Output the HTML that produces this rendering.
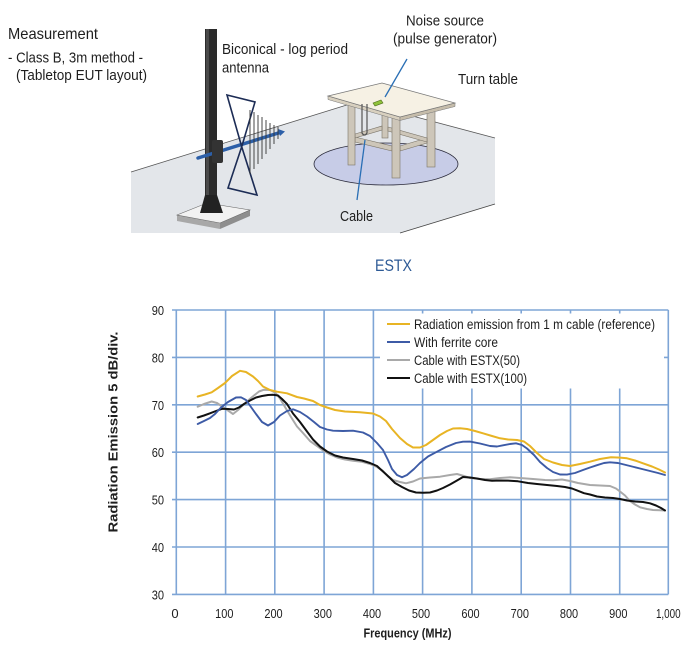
<!DOCTYPE html>
<html><head><meta charset="utf-8"><style>
html,body{margin:0;padding:0;background:#fff;}
svg{display:block;}
text{font-family:"Liberation Sans",sans-serif;fill:#1e1e1e;}
</style></head><body>
<svg width="696" height="647" viewBox="0 0 696 647" xmlns="http://www.w3.org/2000/svg">
<!-- ===== Illustration ===== -->
<polygon points="131,172 358,101.5 495,138 495,204 400,233 131,233" fill="#e3e6ea"/>
<polyline points="131,172 358,101.5 495,138" fill="none" stroke="#555" stroke-width="0.8"/>
<line x1="495" y1="204" x2="400" y2="233" stroke="#444" stroke-width="0.9"/>
<!-- turntable -->
<ellipse cx="386" cy="164" rx="72" ry="21" fill="#c7cce7" stroke="#2a2a3a" stroke-width="0.8"/>
<!-- table legs -->
<g fill="#cdc6b9" stroke="#7a7468" stroke-width="0.6">
<rect x="382" y="110" width="6" height="28"/>
<rect x="427" y="108" width="8" height="59"/>
<polygon points="355,137 392,146 392,151 355,142"/>
<polygon points="400,146 427,138 427,143 400,151"/>
<polygon points="355,134 382,126 382,130 355,138"/>
<polygon points="388,127 427,138 427,142 388,131"/>
<rect x="348" y="103" width="7" height="62"/>
<rect x="392" y="115" width="8" height="63"/>
</g>
<!-- table top -->
<polygon points="328,96 400,117 400,120.5 328,99.5" fill="#d8d0bf" stroke="#777" stroke-width="0.5"/>
<polygon points="400,117 455,103 455,106.5 400,120.5" fill="#c6bdab" stroke="#777" stroke-width="0.5"/>
<polygon points="328,96 382,83 455,103 400,117" fill="#f6f1e4" stroke="#777" stroke-width="0.7"/>
<!-- cable and noise source -->
<path d="M362,104 L362,133 Q364.5,137 367,133 L367,104" fill="none" stroke="#555" stroke-width="1.2"/>
<polygon points="373,103 381,100 383,103 375,106" fill="#8fc23a" stroke="#4d6b1a" stroke-width="0.6"/>
<line x1="407" y1="59" x2="385" y2="97" stroke="#2a6fb5" stroke-width="1.3"/>
<line x1="365" y1="140" x2="357" y2="200" stroke="#2a6fb5" stroke-width="1.3"/>
<!-- pole base -->
<polygon points="177,215 220,223 220,229 177,221" fill="#a8a8a8"/>
<polygon points="220,223 250,210 250,216 220,229" fill="#8e8e8e"/>
<polygon points="177,215 207,203 250,210 220,223" fill="#f2f2f2" stroke="#666" stroke-width="0.6"/>
<!-- pole -->
<rect x="205" y="29" width="12" height="172" fill="#2b2b2b"/>
<rect x="206" y="29" width="3" height="172" fill="#4a4a4a"/>
<polygon points="205,195 217,195 223,213 200,213" fill="#222"/>
<!-- boom -->
<line x1="198" y1="158" x2="280" y2="132.5" stroke="#2c5fa8" stroke-width="3.5" stroke-linecap="round"/>
<polygon points="278,129 285,131.5 280,136" fill="#2c5fa8"/>
<rect x="212" y="140" width="11" height="23" rx="2" fill="#333"/>
<!-- bowtie -->
<polygon points="227,95 255,102 241.7,146.7" fill="none" stroke="#1c2c55" stroke-width="1.6"/>
<polygon points="241.7,146.7 228,188 257,195" fill="none" stroke="#1c2c55" stroke-width="1.6"/>
<!-- log-periodic elements -->
<g stroke="#333" stroke-width="0.9">
<line x1="250" y1="110" x2="250" y2="174"/>
<line x1="254" y1="112" x2="254" y2="169"/>
<line x1="258" y1="115" x2="258" y2="164"/>
<line x1="262" y1="117" x2="262" y2="159"/>
<line x1="266" y1="120" x2="266" y2="154"/>
<line x1="270" y1="123" x2="270" y2="149"/>
<line x1="274" y1="125" x2="274" y2="144"/>
<line x1="278" y1="127" x2="278" y2="139"/>
</g>
<!-- illustration text -->
<text x="8" y="39" font-size="16" textLength="90" lengthAdjust="spacingAndGlyphs">Measurement</text>
<text x="8" y="62.5" font-size="15" textLength="135" lengthAdjust="spacingAndGlyphs">- Class B, 3m method -</text>
<text x="16" y="80" font-size="15" textLength="131" lengthAdjust="spacingAndGlyphs">(Tabletop EUT layout)</text>
<text x="222" y="54" font-size="15" textLength="126" lengthAdjust="spacingAndGlyphs">Biconical - log period</text>
<text x="222" y="72.5" font-size="15" textLength="47" lengthAdjust="spacingAndGlyphs">antenna</text>
<text x="406" y="25.5" font-size="15" textLength="78" lengthAdjust="spacingAndGlyphs">Noise source</text>
<text x="393" y="43.5" font-size="15" textLength="104" lengthAdjust="spacingAndGlyphs">(pulse generator)</text>
<text x="458" y="84" font-size="15" textLength="60" lengthAdjust="spacingAndGlyphs">Turn table</text>
<text x="340" y="221" font-size="15" textLength="33" lengthAdjust="spacingAndGlyphs">Cable</text>

<!-- ===== Chart ===== -->
<text x="375" y="271" font-size="17" textLength="37" lengthAdjust="spacingAndGlyphs" style="fill:#2d5a96">ESTX</text>

<g stroke="#7ea5d6" stroke-width="1.6" fill="none">
<line x1="172" y1="310" x2="668.3" y2="310"/>
<line x1="172" y1="357.4" x2="668.3" y2="357.4"/>
<line x1="172" y1="404.8" x2="668.3" y2="404.8"/>
<line x1="172" y1="452.2" x2="668.3" y2="452.2"/>
<line x1="172" y1="499.6" x2="668.3" y2="499.6"/>
<line x1="172" y1="547" x2="668.3" y2="547"/>
<line x1="172" y1="594.4" x2="668.3" y2="594.4"/>
<line x1="176.3" y1="310" x2="176.3" y2="594.4"/>
<line x1="225.6" y1="310" x2="225.6" y2="594.4"/>
<line x1="274.8" y1="310" x2="274.8" y2="594.4"/>
<line x1="324.1" y1="310" x2="324.1" y2="594.4"/>
<line x1="373.4" y1="310" x2="373.4" y2="594.4"/>
<line x1="422.6" y1="310" x2="422.6" y2="594.4"/>
<line x1="471.9" y1="310" x2="471.9" y2="594.4"/>
<line x1="521.2" y1="310" x2="521.2" y2="594.4"/>
<line x1="570.5" y1="310" x2="570.5" y2="594.4"/>
<line x1="619.7" y1="310" x2="619.7" y2="594.4"/>
<line x1="668.3" y1="310" x2="668.3" y2="594.4"/>
</g>
<!-- legend box -->
<rect x="380" y="313.5" width="284" height="75" fill="#fff"/>

<!-- series -->
<g fill="none" stroke-linejoin="round" stroke-linecap="round">
<polyline stroke="#a9a9a9" stroke-width="2" points="197.7,406.7 204,404 211.7,401.5 217,403 222,406.5 228,410.5 233,414 238,410 243,405 248,400.5 254,395.5 259,391.5 264,389.7 270,390 275,392.5 280,398.5 285,407 291,417 297,426.5 303,433 310,441 317,446 323,450.5 330,454.5 337,457.5 345,459.5 353,460.7 362,461.8 370,464 377,467 383,471 388,476.5 393,480 400,482 406,483.3 413,481.5 420,478.5 430,477.5 440,476.7 450,475 457,474 464,476 470,478 480,479 490,479.3 500,478 510,477.3 520,478 533,479 545,480 553,480.2 562,479.5 570,481 578,483 590,485 600,485.5 610,486 616,488.5 620,491.5 625,495.5 630,501 635,504.5 640,507.3 647,509 653,510 660,510.3 665,510.5"/>
<polyline stroke="#111" stroke-width="2" points="197.7,417.5 204,415.5 210,413.3 216,411 222,408.8 228,409 234,409.5 239,407.5 244,404 250,400.5 256,397.5 262,396 268,395 273,394.8 278,395.5 282,399 287,404 293,413.5 300,422 307,431.5 313,439.5 320,446.5 327,451.5 335,455.5 343,457.5 353,459 362,460.5 370,463 377,466 383,471.5 389,477 395,483 402,487 409,490.5 416,492.5 423,492.8 430,492.5 437,490.5 443,488 450,484.5 457,480.5 463,477 470,477.5 477,478.5 485,480 492,480.7 500,480.5 510,480.7 518,481.3 528,483 537,484 547,485 557,486 565,487 572,488.5 578,490.8 584,493.2 590,494.5 597,496.5 605,497.5 613,498 620,499 627,500.5 635,501.5 643,502 650,503.3 656,505.5 661,508 665,510.5"/>
<polyline stroke="#3d5ba6" stroke-width="1.9" points="197.7,424 204,421 210,418 215,414 221,407.5 228,402 236,397.5 241,397.3 246,400 251,407 256,414 262,422 268,425.5 274,422 280,415.5 287,411 293,409.3 300,412 307,416.5 314,422 320,427 327,429.5 333,430.7 343,431 353,430.7 363,432.5 370,436 377,443 383,450 388,460 392,469 397,475 402,477.3 407,475 414,469 420,463 428,456.5 437,451.7 446,447 456,443 463,441.7 470,441.6 480,443.5 490,446 497,446.5 503,445.3 510,444 516,443.3 522,445 527,448.5 534,455 540,462 547,468 553,472 560,474.5 567,474.6 575,473 583,470 590,467.5 597,465.2 604,463 610,462.3 618,463 626,465 634,467 642,469 650,471 658,473 665,475"/>
<polyline stroke="#e8b424" stroke-width="2" points="197.7,396.5 205,394.5 211.7,392.3 218,388 225,383 232,376 240,370.8 246,372 253,376.5 258,381 263,386.5 270,390 277,391.7 287,393.3 297,397 304,398.5 313,401 320,405 327,407.5 335,410 345,411.5 360,412.3 373,413.5 380,416.5 386,421 392,429 400,438 407,444 413,447.5 420,447.5 426,445 433,440 440,435 447,431 453,428.5 460,428.3 467,429 475,431 483,433.3 492,436 500,438.3 508,439.5 517,440 524,441.5 530,446 537,453 544,459 553,462.5 562,465 570,466 580,464 590,461.7 600,459 611,457.3 620,457.6 627,458.3 635,460.5 643,463.3 652,466.5 659,469.5 665,472.5"/>
</g>

<!-- legend -->
<g stroke-width="2">
<line x1="387" y1="324" x2="410" y2="324" stroke="#e8b424"/>
<line x1="387" y1="342" x2="410" y2="342" stroke="#3d5ba6"/>
<line x1="387" y1="360" x2="410" y2="360" stroke="#a9a9a9"/>
<line x1="387" y1="378" x2="410" y2="378" stroke="#111"/>
</g>
<g font-size="13.5">
<text x="414" y="329" textLength="241" lengthAdjust="spacingAndGlyphs">Radiation emission from 1 m cable (reference)</text>
<text x="414" y="347" textLength="84" lengthAdjust="spacingAndGlyphs">With ferrite core</text>
<text x="414" y="365" textLength="106" lengthAdjust="spacingAndGlyphs">Cable with ESTX(50)</text>
<text x="414" y="383" textLength="113" lengthAdjust="spacingAndGlyphs">Cable with ESTX(100)</text>
</g>

<!-- y tick labels -->
<g font-size="13" text-anchor="end">
<text x="164" y="315" textLength="12.3" lengthAdjust="spacingAndGlyphs">90</text>
<text x="164" y="362.4" textLength="12.3" lengthAdjust="spacingAndGlyphs">80</text>
<text x="164" y="409.8" textLength="12.3" lengthAdjust="spacingAndGlyphs">70</text>
<text x="164" y="457.2" textLength="12.3" lengthAdjust="spacingAndGlyphs">60</text>
<text x="164" y="504.6" textLength="12.3" lengthAdjust="spacingAndGlyphs">50</text>
<text x="164" y="552" textLength="12.3" lengthAdjust="spacingAndGlyphs">40</text>
<text x="164" y="599.4" textLength="12.3" lengthAdjust="spacingAndGlyphs">30</text>
</g>
<!-- x tick labels -->
<g font-size="13" text-anchor="middle">
<text x="175" y="618">0</text>
<text x="224.3" y="618" textLength="18.3" lengthAdjust="spacingAndGlyphs">100</text>
<text x="273.5" y="618" textLength="18.3" lengthAdjust="spacingAndGlyphs">200</text>
<text x="322.8" y="618" textLength="18.3" lengthAdjust="spacingAndGlyphs">300</text>
<text x="372" y="618" textLength="18.3" lengthAdjust="spacingAndGlyphs">400</text>
<text x="421" y="618" textLength="18.3" lengthAdjust="spacingAndGlyphs">500</text>
<text x="470.5" y="618" textLength="18.3" lengthAdjust="spacingAndGlyphs">600</text>
<text x="519.8" y="618" textLength="18.3" lengthAdjust="spacingAndGlyphs">700</text>
<text x="569" y="618" textLength="18.3" lengthAdjust="spacingAndGlyphs">800</text>
<text x="618.3" y="618" textLength="18.3" lengthAdjust="spacingAndGlyphs">900</text>
<text x="668.3" y="618" textLength="24.7" lengthAdjust="spacingAndGlyphs">1,000</text>
</g>
<!-- axis titles -->
<text x="363.5" y="637.5" font-size="12.5" font-weight="bold" textLength="88" lengthAdjust="spacingAndGlyphs">Frequency (MHz)</text>
<text transform="translate(117.5,432) rotate(-90)" x="0" y="0" font-size="12.5" font-weight="bold" text-anchor="middle" textLength="201" lengthAdjust="spacingAndGlyphs">Radiation Emission 5 dB/div.</text>
</svg>
</body></html>
